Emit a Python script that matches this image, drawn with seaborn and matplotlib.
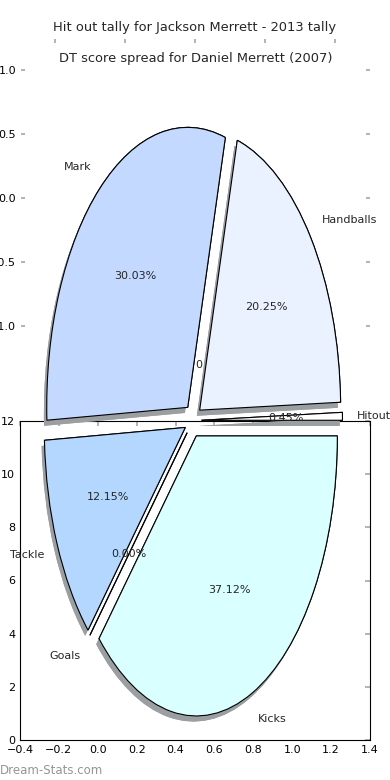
import numpy as np
import matplotlib as mpl
import matplotlib.pyplot as plt
import seaborn as sns

sns.set_theme(style="white")
plt.rcParams["font.family"] = ["DejaVu Sans"]
mpl.rcParams["xtick.color"] = "#aaaaaa"
mpl.rcParams["ytick.color"] = "#aaaaaa"
mpl.rcParams["xtick.labelcolor"] = "black"
mpl.rcParams["ytick.labelcolor"] = "black"

# pie data, counter-clockwise from 0 degrees
stats = ["Hitout", "Handballs", "Mark", "Tackle", "Goals", "Kicks"]
shares = [0.45, 20.25, 30.03, 12.15, 0.00, 37.12]
slice_colors = ["#ffffff", "#ebf2ff", "#c4d9ff", "#b4d7ff", "#ccccff", "#d9ffff"]

top_title = "Hit out tally for Jackson Merrett - 2013 tally"
mid_title = "DT score spread for Daniel Merrett (2007)"
b_xticks = [-0.4, -0.2, 0.0, 0.2, 0.4, 0.6, 0.8, 1.0, 1.2, 1.4]
b_yticks = [0, 2, 4, 6, 8, 10, 12]
m_yticks = [-1.0, -0.5, 0.0, 0.5, 1.0]

W, H = 390, 780
fig = plt.figure(figsize=(3.9, 7.8), dpi=100)


def rect(x0, y0, x1, y1):
    return [x0 / W, 1 - y1 / H, (x1 - x0) / W, (y1 - y0) / H]


# pie geometry in pixels
cx, cy, rx, ry = 193, 420.5, 141, 280
explode = [0.06] * len(shares)
wedge = {"edgecolor": "black", "linewidth": 0.8}
shadow_colors = ["#9c9fa2"] * len(shares)


def draw_pie(ax, with_text):
    # old-style drop shadow: grey copy shifted down-left
    ax.pie(shares, explode=explode, colors=shadow_colors, startangle=0,
           center=(-0.02, -0.02), wedgeprops={"linewidth": 0})
    if with_text:
        ax.pie(shares, explode=explode, labels=stats, colors=slice_colors, startangle=0,
               autopct="%1.2f%%", wedgeprops=wedge, textprops={"fontsize": 8})
    else:
        ax.pie(shares, explode=explode, colors=slice_colors, startangle=0,
               wedgeprops=wedge)
    ax.set_aspect("auto")


# top axes (title only, frameless)
ax_a = fig.add_axes(rect(20, 39, 370, 365), facecolor="none", zorder=0)
ax_a.set_xlim(-1.25, 1.25)
ax_a.set_xticks([-1, -0.5, 0, 0.5, 1])
ax_a.set_yticks([])
ax_a.tick_params(axis="x", top=True, bottom=False, labeltop=False, labelbottom=False,
                 direction="in", length=3)
for s in ax_a.spines.values():
    s.set_visible(False)
ax_a.set_title(top_title, fontsize=9.4, pad=6)
ax_a.text(0.51, 0.0, "0", transform=ax_a.transAxes, fontsize=8, va="center", ha="center")

# second axes with the -1..1 y scale
ax_m = fig.add_axes(rect(21, 70, 370, 326), facecolor="none", zorder=0)
ax_m.set_ylim(-1, 1)
ax_m.set_yticks(m_yticks)
ax_m.set_xticks([])
ax_m.tick_params(axis="y", left=True, right=True, direction="in", length=3, labelsize=8)
for s in ax_m.spines.values():
    s.set_visible(False)
ax_m.set_title(mid_title, fontsize=9.4, pad=6)

# bottom axes
ax_b = fig.add_axes(rect(20, 421, 370, 740), facecolor="white", zorder=1)
ax_b.set_xlim(-0.4, 1.4)
ax_b.set_ylim(0, 12)
ax_b.set_xticks(b_xticks)
ax_b.set_yticks(b_yticks)
ax_b.tick_params(direction="in", top=True, right=True, length=3.5, labelsize=8)
for s in ax_b.spines.values():
    s.set_visible(True)
    s.set_color("black")
    s.set_linewidth(0.8)

# lower half of the pie, clipped to the bottom axes
ax_l = fig.add_axes(rect(20, 421, 370, 740), facecolor="none", zorder=2)
draw_pie(ax_l, with_text=False)
ax_l.set_xlim((20 - cx) / rx, (370 - cx) / rx)
ax_l.set_ylim((cy - 740) / ry, (cy - 421) / ry)
ax_l.axis("off")

# upper half of the pie with labels
ax_u = fig.add_axes(rect(0, 0, 390, 424), facecolor="none", zorder=3)
draw_pie(ax_u, with_text=True)
ax_u.set_xlim((0 - cx) / rx, (390 - cx) / rx)
ax_u.set_ylim((cy - 424) / ry, (cy - 0) / ry)
ax_u.axis("off")

fig.text(0.0, 0.0128, "Dream-Stats.com", color="#959595", fontsize=8.5,
         ha="left", va="center")

fig.savefig("out.png", dpi=100)
